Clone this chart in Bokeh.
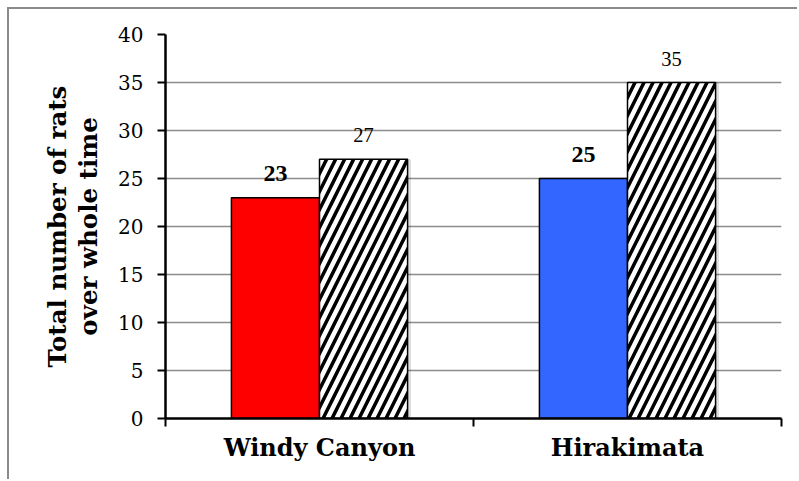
from bokeh.plotting import figure
from bokeh.models import Range1d, FixedTicker, ColumnDataSource, LabelSet, LinearAxis
from bokeh.transform import dodge
from bokeh.embed import file_html
from bokeh.resources import INLINE

# Rat counts per site
sites = ["Windy Canyon", "Hirakimata"]
site_colors = ["#FF0000", "#3366FF"]
first_counts = [23, 25]
second_counts = [27, 35]

y_ticks = [0, 5, 10, 15, 20, 25, 30, 35, 40]
title_lines = ["Total number of rats", "over whole time"]

SERIF = "DejaVu Serif"
BAR_W = 0.286
SHADOW = 0.011

xpos = [i + 0.5 for i in range(len(sites))]
src = ColumnDataSource(dict(
    x=xpos,
    first=first_counts,
    second=second_counts,
    color=site_colors,
    first_txt=[str(v) for v in first_counts],
    second_txt=[str(v) for v in second_counts],
))

W, H = 790, 472
p = figure(width=W, height=H, output_backend="svg", toolbar_location=None,
           x_range=Range1d(0, len(sites)), y_range=Range1d(0, 40),
           min_border_left=156, min_border_right=18, min_border_top=25,
           min_border_bottom=63)
p.margin = (7, 0, 0, 7)
p.styles = {"border-top": "2px solid #8a8a8a", "border-left": "2px solid #8a8a8a"}
p.outline_line_color = None
p.background_fill_color = "white"
p.border_fill_color = "white"

p.xgrid.grid_line_color = None
p.ygrid.ticker = FixedTicker(ticks=y_ticks)
p.ygrid.grid_line_color = "#8c8c8c"
p.ygrid.grid_line_width = 1.5

# Soft drop shadow to the right of the bars
p.vbar(x=dodge("x", BAR_W / 2 + SHADOW), top="second", width=BAR_W, source=src,
       fill_color="#000000", fill_alpha=0.13, line_color=None)

# Bars
p.vbar(x=dodge("x", -BAR_W / 2), top="first", width=BAR_W, source=src,
       fill_color="color", line_color="black", line_width=1.5)
p.vbar(x=dodge("x", BAR_W / 2), top="second", width=BAR_W, source=src,
       fill_color="white", line_color="black", line_width=1.5,
       hatch_pattern="/", hatch_color="black", hatch_scale=18, hatch_weight=3.5)

# Value labels
p.add_layout(LabelSet(x=dodge("x", -BAR_W / 2), y="first", text="first_txt", source=src,
                      text_align="center", text_baseline="alphabetic", y_offset=17,
                      text_font=SERIF, text_font_style="bold", text_font_size="24px",
                      text_color="black"))
p.add_layout(LabelSet(x=dodge("x", BAR_W / 2), y="second", text="second_txt", source=src,
                      text_align="center", text_baseline="alphabetic", y_offset=17,
                      text_font=SERIF, text_font_size="20.5px", text_color="black"))

# X axis: boundary ticks, category names centred
xa = p.xaxis[0]
xa.ticker = FixedTicker(ticks=xpos, minor_ticks=list(range(len(sites) + 1)))
xa.major_label_overrides = {x: s for x, s in zip(xpos, sites)}
xa.major_tick_out = 0
xa.major_tick_in = 0
xa.minor_tick_out = 8
xa.minor_tick_in = 0
xa.minor_tick_line_color = "black"
xa.minor_tick_line_width = 2
xa.axis_line_color = "black"
xa.axis_line_width = 2.5
xa.major_label_text_font = SERIF
xa.major_label_text_font_style = "bold"
xa.major_label_text_font_size = "24px"
xa.major_label_text_color = "black"
xa.major_label_standoff = 6

# Y axis (carries the second title line)
ya = p.yaxis[0]
ya.ticker = FixedTicker(ticks=y_ticks)
ya.axis_line_color = "black"
ya.axis_line_width = 2.5
ya.major_tick_out = 8
ya.major_tick_in = 0
ya.major_tick_line_color = "black"
ya.major_tick_line_width = 2
ya.minor_tick_line_color = None
ya.major_label_text_font = SERIF
ya.major_label_text_font_size = "20px"
ya.major_label_text_color = "black"
ya.major_label_standoff = 14

def style_title(axis, text, standoff):
    axis.axis_label = text
    axis.axis_label_text_font = SERIF
    axis.axis_label_text_font_style = "bold"
    axis.axis_label_text_font_size = "24.5px"
    axis.axis_label_text_color = "black"
    axis.axis_label_standoff = standoff

style_title(ya, title_lines[1], 12)

# Outer bare axis that only carries the first title line
ta = LinearAxis(ticker=FixedTicker(ticks=[]), axis_line_color=None,
                major_tick_line_color=None, minor_tick_line_color=None,
                major_tick_out=0, minor_tick_out=0, major_label_standoff=0)
style_title(ta, title_lines[0], 0)
p.add_layout(ta, "left")

open("out.html", "w").write(file_html(p, INLINE))
